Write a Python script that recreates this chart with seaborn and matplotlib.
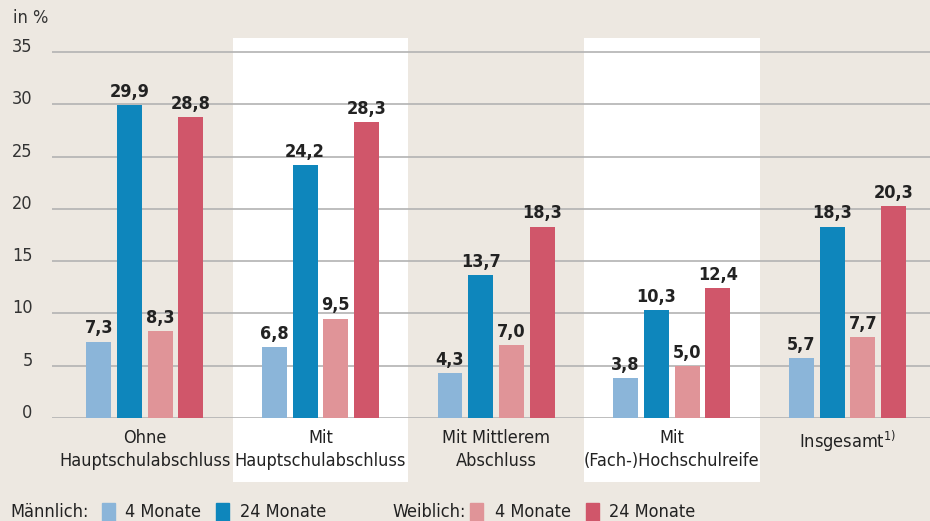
import pandas as pd
import matplotlib.pyplot as plt
import matplotlib.transforms as mtransforms
from matplotlib import font_manager
from matplotlib.patches import Rectangle
import seaborn as sns

# Daten
kategorien = ['Ohne\nHauptschulabschluss', 'Mit\nHauptschulabschluss', 'Mit Mittlerem\nAbschluss',
              'Mit\n(Fach-)Hochschulreife', 'Insgesamt$^{\\mathregular{1)}}$']
maennlich_4 = [7.3, 6.8, 4.3, 3.8, 5.7]
maennlich_24 = [29.9, 24.2, 13.7, 10.3, 18.3]
weiblich_4 = [8.3, 9.5, 7.0, 5.0, 7.7]
weiblich_24 = [28.8, 28.3, 18.3, 12.4, 20.3]
serien = ['M4', 'M24', 'W4', 'W24']
farben = ['#8BB5D9', '#0E86BC', '#E09498', '#D0566A']
yticks = [0, 5, 10, 15, 20, 25, 30, 35]

werte = [maennlich_4, maennlich_24, weiblich_4, weiblich_24]
zeilen = []
for s, w in zip(serien, werte):
    for k, v in zip(kategorien, w):
        zeilen.append({'Kategorie': k, 'Serie': s, 'Wert': v})
df = pd.DataFrame(zeilen)

sns.set_theme(style="white")

# schmale Schrift suchen (am liebsten "condensed"), falls vorhanden
def stretch_wert(f):
    s = f.stretch
    if isinstance(s, str):
        return font_manager.stretch_dict.get(s.lower(), 500)
    return s

kandidaten = [f for f in font_manager.fontManager.ttflist if stretch_wert(f) < 500]
kandidaten.sort(key=lambda f: abs(stretch_wert(f) - 300))
schmal = kandidaten[0] if kandidaten else None
if schmal is not None:
    plt.rcParams['font.family'] = [schmal.name, 'DejaVu Sans']
    plt.rcParams['font.stretch'] = stretch_wert(schmal)
    fs = 13
else:
    plt.rcParams['font.family'] = ['DejaVu Sans']
    fs = 11.5
bg = '#EDE8E1'

fig = plt.figure(figsize=(9.3, 5.21), dpi=100, facecolor=bg)
ax = fig.add_axes([52/930, 103/521, 1 - 52/930, 380/521])
ax.set_facecolor(bg)

ax = sns.barplot(data=df, x='Kategorie', y='Wert', hue='Serie', hue_order=serien,
                 palette=farben, width=0.7, gap=0.19, order=kategorien, ax=ax,
                 legend=False, zorder=3, saturation=1, linewidth=0)

# weisse Hintergrundstreifen
for i in [1, 3]:
    ax.axvspan(i - 0.5, i + 0.5, ymin=-64/380, ymax=1, color='white', zorder=0,
               clip_on=False, lw=0)

for y in yticks:
    ax.axhline(y, color='#B3B3B3', lw=1.2, zorder=1)

for c in ax.containers:
    ax.bar_label(c, labels=[f"{v:.1f}".replace('.', ',') for v in c.datavalues],
                 padding=3, fontsize=fs, fontweight='bold', color='#222222')

ax.set_xlim(-0.528, 4.47)
ax.set_ylim(0, 36.34)
ax.set_yticks(yticks)
ax.set_yticklabels([str(y) for y in yticks])
ax.tick_params(axis='y', length=0, pad=14, labelsize=fs, labelcolor='#333333')
ax.tick_params(axis='x', length=0, pad=8, labelsize=fs, labelcolor='#222222')
for lab in ax.get_yticklabels():
    lab.set_transform(lab.get_transform() + mtransforms.ScaledTranslation(0, 7/100, fig.dpi_scale_trans))
for lab in ax.get_xticklabels():
    lab.set_linespacing(1.35)
ax.set_xlabel('')
ax.set_ylabel('')
for sp in ax.spines.values():
    sp.set_visible(False)

fig.text(13/930, 1 - 18/521, 'in %', fontsize=fs, color='#333333', va='center', ha='left')

# Legende
ly = 1 - 512/521
legende = [('Männlich:', 10, None, None), ('4 Monate', 125, farben[0], 102),
           ('24 Monate', 240, farben[1], 216), ('Weiblich:', 392, None, None),
           ('4 Monate', 495, farben[2], 470), ('24 Monate', 609, farben[3], 586)]
for text, x, farbe, px in legende:
    fig.text(x/930, ly, text, fontsize=fs, color='#222222', va='center', ha='left')
    if farbe:
        fig.patches.append(Rectangle((px/930, 0), 13/930, 18/521, color=farbe,
                                     transform=fig.transFigure, figure=fig))

fig.savefig('out.png', dpi=100, facecolor=bg)
